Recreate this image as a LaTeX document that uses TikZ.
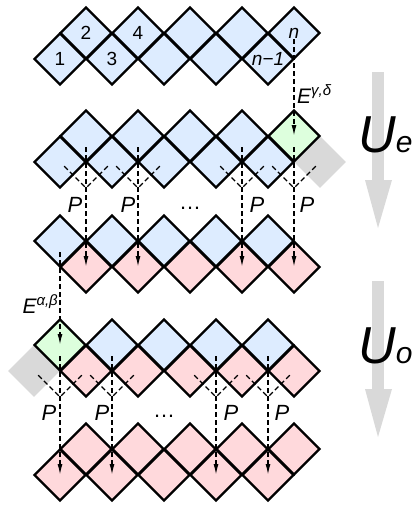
\documentclass[tikz,border=0pt]{standalone}
\usepackage{fontspec}
\setmainfont{Liberation Sans}
\usetikzlibrary{shapes.geometric,arrows.meta}
\definecolor{cellblue}{RGB}{221,236,255}
\definecolor{cellpink}{RGB}{255,217,220}
\definecolor{cellgreen}{RGB}{221,255,221}
\definecolor{arrowgray}{RGB}{217,217,217}

\begin{document}
\begin{tikzpicture}[
        x=1pt, y=-1pt,
        >={Latex[length=11pt,width=5pt]},
        cell/.style={draw, diamond, aspect=1, minimum size=52pt, inner sep=0pt, line width=2.2pt, font=\fontsize{19}{19}\selectfont},
        bluecell/.style={cell, fill=cellblue},
        pinkcell/.style={cell, fill=cellpink},
        greencell/.style={cell, fill=cellgreen},
        ghost/.style={diamond, aspect=1, minimum size=52pt, inner sep=0pt, fill=arrowgray},
        link/.style={line width=1.4pt, dash pattern=on 5pt off 3pt},
        plabel/.style={font=\fontsize{22}{22}\selectfont\itshape},
        elabel/.style={font=\fontsize{21}{21}\selectfont\itshape, inner sep=0pt},
        ulabel/.style={font=\fontsize{52}{52}\selectfont\itshape, inner sep=0pt}
    ]
        \useasboundingbox (0,0) rectangle (412,506);

        % big gray arrows
        \fill[arrowgray] (372,72) rectangle (384,181);
        \fill[arrowgray] (365,180) -- (392,180) -- (378,228) -- cycle;
        \fill[arrowgray] (372,281) rectangle (384,390);
        \fill[arrowgray] (365,389) -- (392,389) -- (378,437) -- cycle;
        \node[ulabel, anchor=base west] (ue) at (358,152) {U{\fontsize{30}{30}\selectfont e}};
        \node[ulabel, anchor=base west] (uo) at (358,363) {U{\fontsize{30}{30}\selectfont o}};

        % row 1
        \foreach \i/\lo/\hi in {1/1/2, 2/3/4, 3//, 4//, 5/\textit{n−1}/\textit{n}} {
            \node[bluecell] (r1b\i) at (8+52*\i,59) {\lo};
            \node[bluecell] (r1t\i) at (34+52*\i,33) {\hi};
        }

        % row 2
        \node[ghost] (r2b6) at (320,162) {};
        \foreach \i in {1,...,5}
            \node[bluecell] (r2b\i) at (8+52*\i,162) {};
        \foreach \i in {1,...,4}
            \node[bluecell] (r2t\i) at (34+52*\i,136) {};
        \node[greencell] (r2t5) at (294,136) {};

        % row 3
        \foreach \i in {1,...,5} {
            \node[pinkcell] (r3b\i) at (34+52*\i,267) {};
            \node[bluecell] (r3t\i) at (8+52*\i,241) {};
        }

        % row 4
        \node[ghost] (r4b0) at (34,371) {};
        \foreach \i in {1,...,5}
            \node[pinkcell] (r4b\i) at (34+52*\i,371) {};
        \node[greencell] (r4t1) at (60,345) {};
        \foreach \i in {2,...,5}
            \node[bluecell] (r4t\i) at (8+52*\i,345) {};

        % row 5
        \foreach \i in {1,...,5} {
            \node[pinkcell] (r5b\i) at (8+52*\i,475) {};
            \node[pinkcell] (r5t\i) at (34+52*\i,449) {};
        }

        % E gates
        \draw[link, ->, shorten <=6pt] (r1t5.center) -- (r2t5.center);
        \node[elabel, anchor=base west] (egd) at (297,103) {E\raisebox{8pt}{\fontsize{15}{15}\selectfont γ,δ}};
        \draw[link, ->, shorten <=11pt] (r3t1.center) -- (r4t1.center);
        \node[elabel, anchor=base east] (eab) at (58,313) {E\raisebox{8pt}{\fontsize{15}{15}\selectfont α,β}};

        % P swaps, even step
        \foreach \i/\j in {1/2, 2/3, 4/5, 5/6} {
            \coordinate (v2\i) at (34+52*\i,188);
            \draw[link, ->, shorten <=11pt] (r2t\i.center) -- (r3b\i.center);
            \draw[link, shorten <=6pt] (r2b\i.center) -- (v2\i);
            \draw[link, shorten <=6pt] (r2b\j.center) -- (v2\i);
        }
        \node[plabel] (p21) at (75,205) {P};
        \node[plabel] (p22) at (128,205) {P};
        \node[font=\fontsize{22}{22}\selectfont] (dots2) at (190,208) {…};
        \node[plabel] (p24) at (257,205) {P};
        \node[plabel] (p25) at (307,205) {P};

        % P swaps, odd step
        \foreach \i/\k in {1/0, 2/1, 4/3, 5/4} {
            \coordinate (v4\i) at (8+52*\i,397);
            \draw[link, ->, shorten <=11pt] (r4t\i.center) -- (r5b\i.center);
            \draw[link, shorten <=6pt] (r4b\k.center) -- (v4\i);
            \draw[link, shorten <=6pt] (r4b\i.center) -- (v4\i);
        }
        \node[plabel] (p41) at (49,413) {P};
        \node[plabel] (p42) at (102,413) {P};
        \node[font=\fontsize{22}{22}\selectfont] (dots4) at (164,416) {…};
        \node[plabel] (p44) at (231,413) {P};
        \node[plabel] (p45) at (282,413) {P};
    \end{tikzpicture}
\end{document}
